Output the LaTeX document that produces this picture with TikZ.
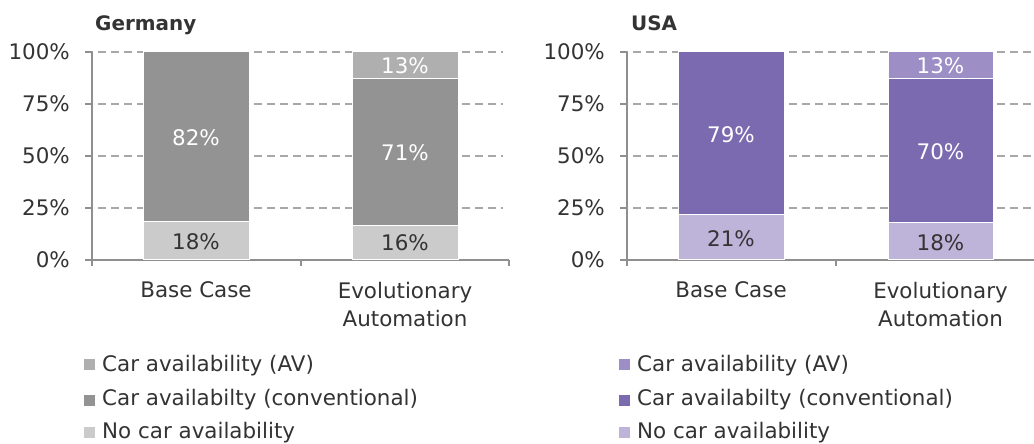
\documentclass[tikz,border=0pt]{standalone}
\usepackage{fontspec}
\setmainfont{DejaVu Sans}
\definecolor{txt}{HTML}{333333}
\definecolor{gridc}{HTML}{A8A8A8}
\definecolor{axisc}{HTML}{8F8F8F}
\definecolor{gav}{HTML}{AFAFAF}
\definecolor{gconv}{HTML}{939393}
\definecolor{gno}{HTML}{CBCBCB}
\definecolor{uav}{HTML}{9D8EC6}
\definecolor{uconv}{HTML}{7B6AAF}
\definecolor{uno}{HTML}{BEB3D9}
\newcommand\mainfs{\fontsize{21.5}{25}\selectfont}
\begin{document}
\begin{tikzpicture}[x=1bp,y=-1bp,
  gridline/.style={draw=gridc, line width=1.1bp, dash pattern=on 8bp off 5bp},
  axisline/.style={draw=axisc, line width=1.2bp},
  segbox/.style={draw=white, line width=1bp},
  lbl/.style={font=\mainfs, text=txt, inner sep=0pt, anchor=base},
  wlbl/.style={lbl, text=white},
  ylbl/.style={lbl, anchor=base east},
  leglbl/.style={lbl, anchor=base west},
  ttl/.style={font=\fontsize{20}{24}\selectfont\bfseries, text=txt, inner sep=0pt, anchor=base west}]
\useasboundingbox (0,0) rectangle (1034,444);
\fill[white] (0,0) rectangle (1034,444);

% ---------------- Germany ----------------
\node[ttl] (gtitle) at (95,31) {Germany};
\foreach \yy in {52,104,156,208} \draw[gridline] (85,\yy) -- (503,\yy);
\foreach \yy in {52,104,156,208,260} \draw[axisline] (85,\yy) -- (92,\yy);
\draw[axisline] (92,52) -- (92,260);
\draw[axisline] (85,260) -- (509,260);
\foreach \xx in {92,301,509} \draw[axisline] (\xx,260) -- (\xx,266);
\node[ylbl] (gy100) at (70,60) {100\%};
\node[ylbl] (gy75) at (70,112) {75\%};
\node[ylbl] (gy50) at (70,164) {50\%};
\node[ylbl] (gy25) at (70,216) {25\%};
\node[ylbl] (gy0) at (70,268) {0\%};
% bars
\filldraw[segbox, fill=gconv] (143,52) rectangle (249,222);
\filldraw[segbox, fill=gno] (143,222) rectangle (249,260);
\filldraw[segbox, fill=gav] (352,52) rectangle (458,79);
\filldraw[segbox, fill=gconv] (352,79) rectangle (458,226);
\filldraw[segbox, fill=gno] (352,226) rectangle (458,260);
\node[wlbl] (g1c) at (196,146) {82\%};
\node[lbl] (g1n) at (196,250) {18\%};
\node[wlbl] (g2a) at (405,74) {13\%};
\node[wlbl] (g2c) at (405,161) {71\%};
\node[lbl] (g2n) at (405,251) {16\%};
\node[lbl] (gcat1) at (196,298) {Base Case};
\node[lbl] (gcat2a) at (405,299) {Evolutionary};
\node[lbl] (gcat2b) at (405,327) {Automation};
% legend
\fill[gav] (84,359) rectangle (95,370);
\fill[gconv] (84,395) rectangle (95,406);
\fill[gno] (84,427) rectangle (95,438);
\node[leglbl] (gl1) at (102,372) {Car availability (AV)};
\node[leglbl] (gl2) at (102,406) {Car availabilty (conventional)};
\node[leglbl] (gl3) at (102,438) {No car availability};

% ---------------- USA ----------------
\node[ttl] (utitle) at (631,31) {USA};
\foreach \yy in {52,104,156,208} \draw[gridline] (620,\yy) -- (1034,\yy);
\foreach \yy in {52,104,156,208,260} \draw[axisline] (620,\yy) -- (627,\yy);
\draw[axisline] (627,52) -- (627,260);
\draw[axisline] (620,260) -- (1034,260);
\foreach \xx in {627,836} \draw[axisline] (\xx,260) -- (\xx,266);
\node[ylbl] (uy100) at (605,60) {100\%};
\node[ylbl] (uy75) at (605,112) {75\%};
\node[ylbl] (uy50) at (605,164) {50\%};
\node[ylbl] (uy25) at (605,216) {25\%};
\node[ylbl] (uy0) at (605,268) {0\%};
% bars
\filldraw[segbox, fill=uconv] (678,52) rectangle (784,215);
\filldraw[segbox, fill=uno] (678,215) rectangle (784,260);
\filldraw[segbox, fill=uav] (888,52) rectangle (993,79);
\filldraw[segbox, fill=uconv] (888,79) rectangle (993,223);
\filldraw[segbox, fill=uno] (888,223) rectangle (993,260);
\node[wlbl] (u1c) at (731,143) {79\%};
\node[lbl] (u1n) at (731,247) {21\%};
\node[wlbl] (u2a) at (940.5,74) {13\%};
\node[wlbl] (u2c) at (940.5,160) {70\%};
\node[lbl] (u2n) at (940.5,251) {18\%};
\node[lbl] (ucat1) at (731,298) {Base Case};
\node[lbl] (ucat2a) at (940.5,299) {Evolutionary};
\node[lbl] (ucat2b) at (940.5,327) {Automation};
% legend
\fill[uav] (619,359) rectangle (630,370);
\fill[uconv] (619,395) rectangle (630,406);
\fill[uno] (619,427) rectangle (630,438);
\node[leglbl] (ul1) at (637,372) {Car availability (AV)};
\node[leglbl] (ul2) at (637,406) {Car availabilty (conventional)};
\node[leglbl] (ul3) at (637,438) {No car availability};
\end{tikzpicture}
\end{document}
